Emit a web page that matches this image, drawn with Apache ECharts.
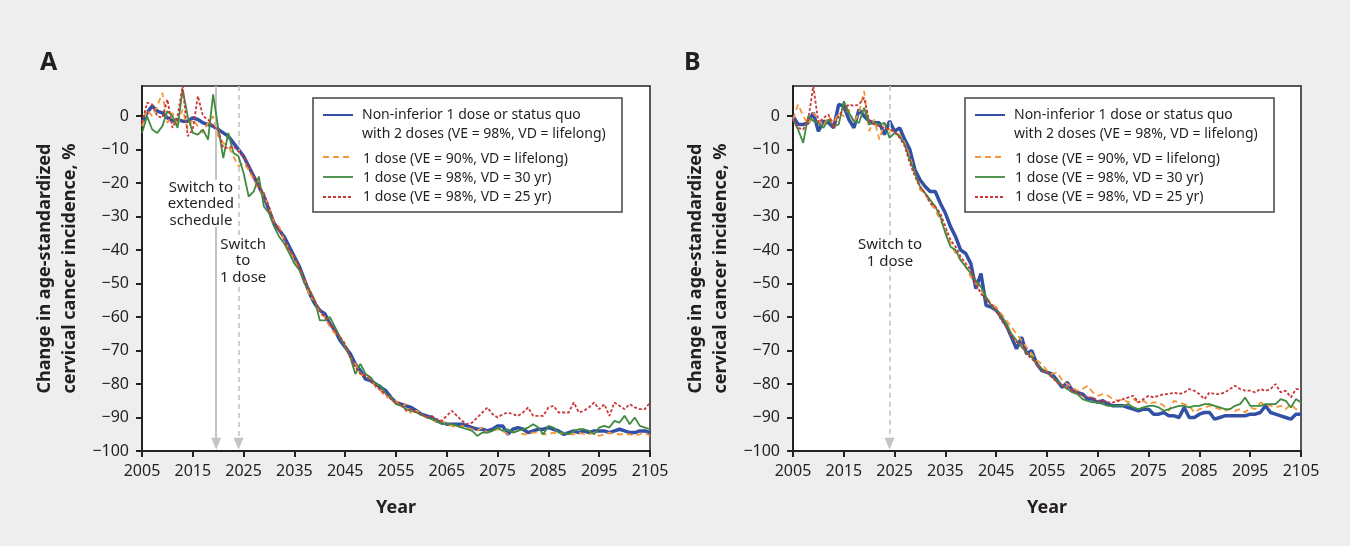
<!DOCTYPE html>
<html><head><meta charset="utf-8">
<script src="https://cdn.jsdelivr.net/npm/echarts@6/dist/echarts.min.js"></script>
<style>html,body{margin:0;padding:0;background:#eeeeee}#c{width:1350px;height:546px}</style>
</head><body><div id="c"></div><script>
const startYear = 2005;
const yTicks = [-100,-90,-80,-70,-60,-50,-40,-30,-20,-10,0];
const xTicks = [2005,2015,2025,2035,2045,2055,2065,2075,2085,2095,2105];
const legendLabels = ['Non-inferior 1 dose or status quo', 'with 2 doses (VE = 98%, VD = lifelong)', '1 dose (VE = 90%, VD = lifelong)', '1 dose (VE = 98%, VD = 30 yr)', '1 dose (VE = 98%, VD = 25 yr)'];
const seriesNames = ['Non-inferior 1 dose or status quo with 2 doses (VE = 98%, VD = lifelong)', '1 dose (VE = 90%, VD = lifelong)', '1 dose (VE = 98%, VD = 30 yr)', '1 dose (VE = 98%, VD = 25 yr)'];

// Panel A
const aBlue = [-2,1,3,1.5,1,-0.5,-1.5,-1,-1.5,-1.5,-0.5,-1,-2,-2.5,-3,-4,-5,-6,-8,-10,-12,-15,-18,-21,-24,-28,-32,-34,-36,-39,-42,-45,-49,-53,-56,-58,-59,-62,-64,-67,-69,-71,-74,-76,-78.5,-79,-80,-81,-82,-84,-85.5,-86,-86.5,-87,-88,-89,-89.5,-90,-91,-91.5,-92,-92,-92,-92,-92.5,-93,-93.5,-93.5,-94,-93.5,-92.5,-92.5,-95,-93.5,-93,-93.5,-94.5,-94,-93.5,-93.5,-93,-93.5,-94,-95,-94.5,-94,-94.5,-94,-94.5,-94,-94,-94,-94.5,-94,-93.5,-94,-94.5,-94.5,-94,-94,-94.5];
const aOrange = [-3,2,0,3,7,-2,1,-3,2,-4,-1,-3,-5,-2,0,-6,-8,-9,-12,-15,-14,-16,-19,-22,-24,-27,-32,-33,-37,-40,-43,-46,-49,-54,-55,-59,-60,-63,-65,-66,-69,-72,-74,-77,-78,-78,-81,-82,-84,-84,-85,-87,-86,-89,-88,-89,-90,-90.5,-91.5,-91,-92,-92.5,-93,-92.5,-93,-93.5,-94,-93,-94.5,-94,-93.5,-94,-95,-94.5,-94,-95,-95,-94.5,-94.5,-95,-95,-94.5,-95,-94.5,-95,-95,-94.5,-95,-95,-94.5,-95.5,-95,-94.5,-95,-95,-95,-95,-95.5,-95,-94.5,-95.5];
const aGreen = [-5,0,-4,-5,-3,1.5,0,-3.5,8,0,-5,-5.5,-4,-7,6.5,-3.5,-12.5,-5,-11,-12,-17,-24,-22.5,-18,-27,-29,-33,-36,-38,-41,-44,-46,-50,-52,-55,-61,-61,-60,-63,-66,-69,-72,-77,-74,-77,-78,-80,-80.5,-83,-84,-86,-86.5,-87.5,-88,-88.5,-89,-90,-90.5,-91,-92,-92,-92,-92.5,-93,-93.5,-94,-95.5,-94.5,-94.5,-94,-93,-94,-93.5,-94.5,-94,-93.5,-93,-92,-93,-95,-92.5,-93,-94.5,-94.5,-95,-94,-93.5,-93.5,-94,-95,-93,-92.5,-93,-91,-91.5,-89.5,-92,-90,-92.5,-93,-93.5];
const aRed = [-2,4,3.5,0,-0.5,5,-3.5,0,9,-6,-4,6,0,-1,-3,-4,-9.5,-9.5,-9,-10.5,-12,-15,-18,-21,-23,-27,-32,-34,-37,-40,-42,-45,-49,-52,-55,-58,-60,-62,-64,-66,-68,-72,-75,-77,-77.5,-79,-80.5,-82,-83,-84.5,-85.5,-86,-88,-87.5,-88.5,-89,-90,-89.5,-90.5,-91,-89.5,-88,-89.5,-91,-92,-91.5,-90,-88.5,-87,-89,-90,-89,-88.5,-89,-89.5,-88.5,-87,-89.5,-89.5,-89.5,-87,-86.5,-88.5,-88.5,-88.5,-85.5,-88.5,-88,-87,-85.5,-87.5,-86,-89.5,-85.5,-86.5,-87.5,-86,-87,-87.5,-87.5,-85.5];

// Panel B
const bBlue = [0,-2.5,-2.5,-2,1,-4.5,-1.5,-2,-3.5,3.5,3,-1,-3.5,2,0,-1.5,-2,-2,-5.5,-1.5,-4.5,-3.5,-7,-10,-16,-19,-21,-22.5,-22.5,-26,-29,-33,-36,-40,-41,-44,-51.5,-47,-56.5,-57,-58,-60,-62.5,-66,-69.5,-66,-71,-70,-74,-76,-76.5,-77,-79,-81,-79.5,-82,-82.5,-83,-84.5,-84.5,-85.5,-85,-86,-86.5,-86.5,-86.5,-87,-87.5,-88,-87.5,-87.5,-89,-89,-88.5,-89.5,-89.5,-90,-87,-90,-90,-89,-88.5,-88.5,-90.5,-90,-89.5,-89.5,-89.5,-89.5,-89.5,-89,-89,-88.5,-86.5,-88.5,-89,-89.5,-90,-90.5,-89,-89];
const bOrange = [-1,3.5,0,-2.5,1,-1,-3,0,-2,1,0,2,-2,1,7.5,-4.5,-1,-7,-2,-4,-5,-5.5,-8,-12,-17,-22,-23,-26,-28,-31,-34,-38,-41,-43,-45,-48,-50,-52,-54,-56,-57,-59,-61,-63,-65,-67,-69,-71,-73,-74,-76,-77,-76.5,-79,-80,-81,-82,-81.5,-80.5,-82.5,-83.5,-83,-83.5,-84.5,-85,-84.5,-85.5,-84.5,-85.5,-85,-86,-85.5,-85.5,-86.5,-88,-85,-85.5,-86,-86.5,-88.5,-87.5,-87,-86.5,-87,-87.5,-88,-87.5,-88,-87.5,-88.5,-87,-87.5,-85.5,-86,-86.5,-87,-86.5,-87.5,-86,-87.5,-87.5];
const bGreen = [-1,-4,-8,0,-1.5,-2,-3.5,-1,-3,-2.5,4.5,1,-1.5,-2,2.5,-2.5,-2,-2.5,-2,-6.5,-5,-6,-8.5,-13,-17,-21,-23,-25,-27,-30,-35,-39,-40,-43,-45,-47,-49,-51,-54,-56.5,-58,-60,-62,-65,-67,-69,-70.5,-72,-74,-75.5,-76.5,-78,-79,-80.5,-81.5,-82.5,-83,-84.5,-85,-85.5,-85.5,-86,-86.5,-86.5,-86.5,-86.5,-86,-87,-87.5,-87,-86.5,-86.5,-87,-88,-87.5,-87,-86.5,-86.5,-87,-86.5,-86.5,-86,-86,-86.5,-87,-87.5,-87.5,-86.5,-86,-84,-86.5,-86.5,-86.5,-86,-86,-86,-84.5,-85,-87,-84.5,-85.5];
const bRed = [-1,-3.5,-4,-1,9,-2,-0.5,0.5,-3.5,0,2,3.5,3,3.5,5.5,-1.5,-2.5,-3,-3.5,-4,-4.5,-6.5,-9,-14,-18,-21,-23,-26,-27,-29,-33,-37,-39,-42,-44,-46,-50,-53,-55,-56,-58,-61,-63,-66,-67.5,-68,-71,-72.5,-74,-76,-76.5,-78,-79.5,-80.5,-81,-82,-82.5,-83.5,-84,-84,-85,-85,-85.5,-85.5,-85,-84.5,-84,-83.5,-85.5,-84.5,-83.5,-84,-83.5,-83,-83,-82.5,-83,-82.5,-81.5,-82,-83,-84.5,-82.5,-83,-83,-82.5,-81.5,-80.5,-81.5,-82,-82,-82.5,-81.5,-82,-81.5,-80,-82.5,-82,-84,-81.5,-81.5];

const colors = ['#3150a6', '#f5963a', '#3f8b3f', '#c9383b'];
const FONT = 'Noto Sans';
const TXT = '#231f20';
const GRAY = '#c4c4c4';

function pairs(vals) { return vals.map((v, i) => [startYear + i, v]); }
function fmtNeg(v) { return v < 0 ? '\u2212' + Math.abs(v) : String(v); }

const grids = [
  { left: 142, right: 700, top: 86, bottom: 95 },
  { left: 793, right: 49, top: 86, bottom: 95 }
];

function xAxis(gi) {
  return {
    type: 'value', gridIndex: gi, min: 2005, max: 2105, interval: 10,
    name: 'Year', nameLocation: 'middle', nameGap: 48,
    nameTextStyle: { fontFamily: FONT, fontWeight: 'bold', fontSize: 18, color: TXT },
    axisLine: { onZero: false, lineStyle: { color: '#222', width: 2 } },
    axisTick: { show: true, length: 6, lineStyle: { color: '#222', width: 2 }, customValues: xTicks },
    axisLabel: { fontFamily: FONT, fontSize: 16, color: TXT, margin: 12, customValues: xTicks, formatter: v => String(v) },
    splitLine: { show: false }
  };
}
function yAxis(gi) {
  return {
    type: 'value', gridIndex: gi, min: -100, max: 9, interval: 10,
    name: 'Change in age-standardized\ncervical cancer incidence, %', nameLocation: 'middle', nameGap: 60, nameRotate: 90,
    nameTextStyle: { fontFamily: FONT, fontWeight: 'bold', fontSize: 18, color: TXT, lineHeight: 25 },
    axisLine: { onZero: false, lineStyle: { color: '#222', width: 2 } },
    axisTick: { show: true, length: 6, lineStyle: { color: '#222', width: 2 }, customValues: yTicks },
    axisLabel: { fontFamily: FONT, fontSize: 16, color: TXT, margin: 13, customValues: yTicks, formatter: fmtNeg },
    splitLine: { show: false }
  };
}

const styles = [
  { width: 3.5, type: 'solid' },
  { width: 1.8, type: [6, 4] },
  { width: 1.8, type: 'solid' },
  { width: 1.8, type: [3, 2] }
];

function panelSeries(gi, arrs) {
  return arrs.map((arr, k) => ({
    name: seriesNames[k], type: 'line', xAxisIndex: gi, yAxisIndex: gi,
    data: pairs(arr), symbol: 'none', z: 3 + k,
    lineStyle: Object.assign({ color: colors[k] }, styles[k]), itemStyle: { color: colors[k] }
  }));
}

function vline(x, yTopEnd, yBotStart, dashed) {
  const ls = { color: GRAY, width: dashed ? 1.6 : 2, type: dashed ? [5, 4] : 'solid' };
  return [
    [{ coord: [x, 9], symbol: 'none', lineStyle: ls }, { coord: [x, yTopEnd], symbol: 'none' }],
    [{ coord: [x, yBotStart], symbol: 'none', lineStyle: ls }, { coord: [x, -97.8], symbol: 'triangle', symbolSize: [10, 12] }]
  ];
}

function annSeries(gi, lines) {
  return {
    type: 'line', xAxisIndex: gi, yAxisIndex: gi, data: [], z: 1, silent: true,
    markLine: {
      silent: true, animation: false, symbol: ['none', 'none'],
      label: { show: false },
      itemStyle: { color: GRAY },
      lineStyle: { color: GRAY },
      emphasis: { disabled: true },
      data: lines
    }
  };
}

const chart = echarts.init(document.getElementById('c'), null, { renderer: 'canvas' });

const option = {
  backgroundColor: '#eeeeee',
  animation: false,
  grid: grids.map(g => Object.assign({ show: true, backgroundColor: '#ffffff', borderColor: '#222', borderWidth: 1.5 }, g)),
  xAxis: [xAxis(0), xAxis(1)],
  yAxis: [yAxis(0), yAxis(1)],
  series: [
    annSeries(0, vline(2019.6, -19, -33, false).concat(vline(2024, -36, -51, true))),
    annSeries(1, vline(2024, -36, -45, true)),
    ...panelSeries(0, [aBlue, aOrange, aGreen, aRed]),
    ...panelSeries(1, [bBlue, bOrange, bGreen, bRed])
  ]
};
chart.setOption(option);

function px(gi, x, y) { return chart.convertToPixel({ xAxisIndex: gi, yAxisIndex: gi }, [x, y]); }

function legendGraphic(left, top) {
  const els = [];
  els.push({ type: 'rect', shape: { x: left, y: top, width: 309, height: 114 }, style: { fill: '#fff', stroke: '#444', lineWidth: 1.5 }, z: 50 });
  const lineYs = [17, 59, 79, 99];
  for (let k = 0; k < 4; k++) {
    els.push({ type: 'line', shape: { x1: left + 10, y1: top + lineYs[k], x2: left + 40, y2: top + lineYs[k] },
      style: { stroke: colors[k], lineWidth: k === 0 ? 2 : 1.8, lineDash: k === 1 ? [6, 4] : (k === 3 ? [3, 2] : null) }, z: 51 });
  }
  const texts = [[legendLabels[0], 17], [legendLabels[1], 36], [legendLabels[2], 61], [legendLabels[3], 80], [legendLabels[4], 99]];
  texts.forEach(([t, y], i) => {
    els.push({ type: 'text', x: left + (i < 2 ? 49 : 50), y: top + y, style: { text: t, fontFamily: FONT, fontSize: 14, fill: TXT, align: 'left', verticalAlign: 'middle' }, z: 52 });
  });
  return els;
}

function annText(gi, x, y, text) {
  const p = px(gi, x, y);
  return { type: 'text', x: p[0], y: p[1], style: { text, fontFamily: FONT, fontSize: 15, fill: TXT, align: 'center', verticalAlign: 'middle', lineHeight: 16.5 }, z: 60 };
}

const graphics = [
  { type: 'text', left: 40, top: 50, style: { text: 'A', fontFamily: FONT, fontWeight: 'bold', fontSize: 25, fill: TXT }, z: 60 },
  { type: 'text', left: 684, top: 50, style: { text: 'B', fontFamily: FONT, fontWeight: 'bold', fontSize: 25, fill: TXT }, z: 60 },
  ...legendGraphic(313, 98),
  ...legendGraphic(965, 98),
  annText(0, 2016.6, -26.3, 'Switch to\nextended\nschedule'),
  annText(0, 2024.9, -43.3, 'Switch\nto\n1 dose'),
  annText(1, 2024.1, -40.9, 'Switch to\n1 dose')
];
chart.setOption({ graphic: graphics });
</script></body></html>
